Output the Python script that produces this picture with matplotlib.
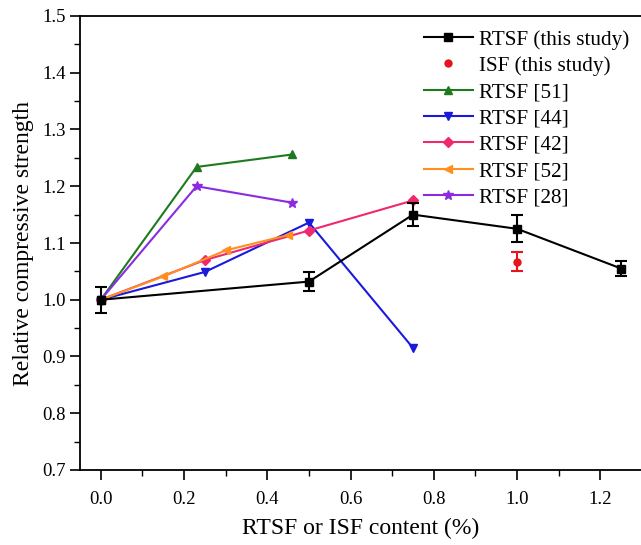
import matplotlib
matplotlib.use("Agg")
import matplotlib.pyplot as plt
from matplotlib.ticker import MultipleLocator
from matplotlib.lines import Line2D

plt.rcParams['font.family'] = ['Liberation Serif', 'DejaVu Serif']

# Data
x_this = [0.0, 0.5, 0.75, 1.0, 1.25]
y_this = [1.0, 1.032, 1.150, 1.125, 1.055]
e_this = [0.023, 0.017, 0.020, 0.024, 0.014]

x_isf = [1.0]
y_isf = [1.067]
e_isf = [0.017]

x_51 = [0.0, 0.23, 0.46]
y_51 = [1.0, 1.234, 1.256]

x_44 = [0.0, 0.25, 0.5, 0.75]
y_44 = [1.0, 1.049, 1.136, 0.915]

x_42 = [0.0, 0.25, 0.5, 0.75]
y_42 = [1.0, 1.070, 1.122, 1.175]

x_52 = [0.0, 0.15, 0.30, 0.45]
y_52 = [1.0, 1.041, 1.087, 1.114]

x_28 = [0.0, 0.23, 0.46]
y_28 = [1.0, 1.200, 1.171]

xticks = [0.0, 0.2, 0.4, 0.6, 0.8, 1.0, 1.2]
xticklabels = ['0.0', '0.2', '0.4', '0.6', '0.8', '1.0', '1.2']

fig = plt.figure(figsize=(6.41, 5.45), dpi=100)
ax = fig.add_axes([80/641, 1-470/545, (642-80)/641, (470-16)/545])

handles = []
ax.errorbar(x_this, y_this, yerr=e_this, color='black', marker='s', ms=6,
            lw=1.5, capsize=4, elinewidth=1.5, capthick=1.5, zorder=5)
handles.append(Line2D([], [], color='black', marker='s', ms=6, lw=1.5, label='RTSF (this study)'))
ax.errorbar(x_isf, y_isf, yerr=e_isf, color='#e8141c', marker='o', ms=5,
            ls='none', capsize=4, elinewidth=1.5, capthick=1.5, zorder=5)
handles.append(Line2D([], [], color='#e8141c', marker='o', ms=5, ls='none', label='ISF (this study)'))

series = [
    (x_51, y_51, '#1f7a1f', '^', 6, 'RTSF [51]'),
    (x_44, y_44, '#1a1adc', 'v', 6, 'RTSF [44]'),
    (x_42, y_42, '#f0286e', 'D', 5, 'RTSF [42]'),
    (x_52, y_52, '#ff9020', '<', 6, 'RTSF [52]'),
    (x_28, y_28, '#8a2be2', '*', 7, 'RTSF [28]'),
]
for xs, ys, c, m, ms, lab in series:
    ln, = ax.plot(xs, ys, color=c, marker=m, ms=ms, lw=1.5, label=lab)
    handles.append(ln)

ax.set_xlim(-0.05, 1.3)
ax.set_ylim(0.7, 1.5)
ax.set_xticks(xticks)
ax.set_xticklabels(xticklabels)
ax.xaxis.set_minor_locator(MultipleLocator(0.1))
ax.yaxis.set_major_locator(MultipleLocator(0.1))
ax.yaxis.set_minor_locator(MultipleLocator(0.05))
ax.tick_params(which='major', direction='out', length=7, width=1.2, labelsize=13.5, colors='black')
ax.tick_params(which='minor', direction='out', length=4, width=1.0)
ax.tick_params(axis='x', pad=8)
for s in ax.spines.values():
    s.set_linewidth(1.3)

ax.set_xlabel('RTSF or ISF content (%)', fontsize=17, labelpad=7)
ax.set_ylabel('Relative compressive strength', fontsize=17, labelpad=6)

leg = ax.legend(handles=handles, loc='upper left', bbox_to_anchor=(0.588, 1.0), frameon=False,
                fontsize=15.2, handlelength=2.3, handletextpad=0.3,
                labelspacing=0.31, borderaxespad=0.25)

fig.savefig('out.png', dpi=100)
